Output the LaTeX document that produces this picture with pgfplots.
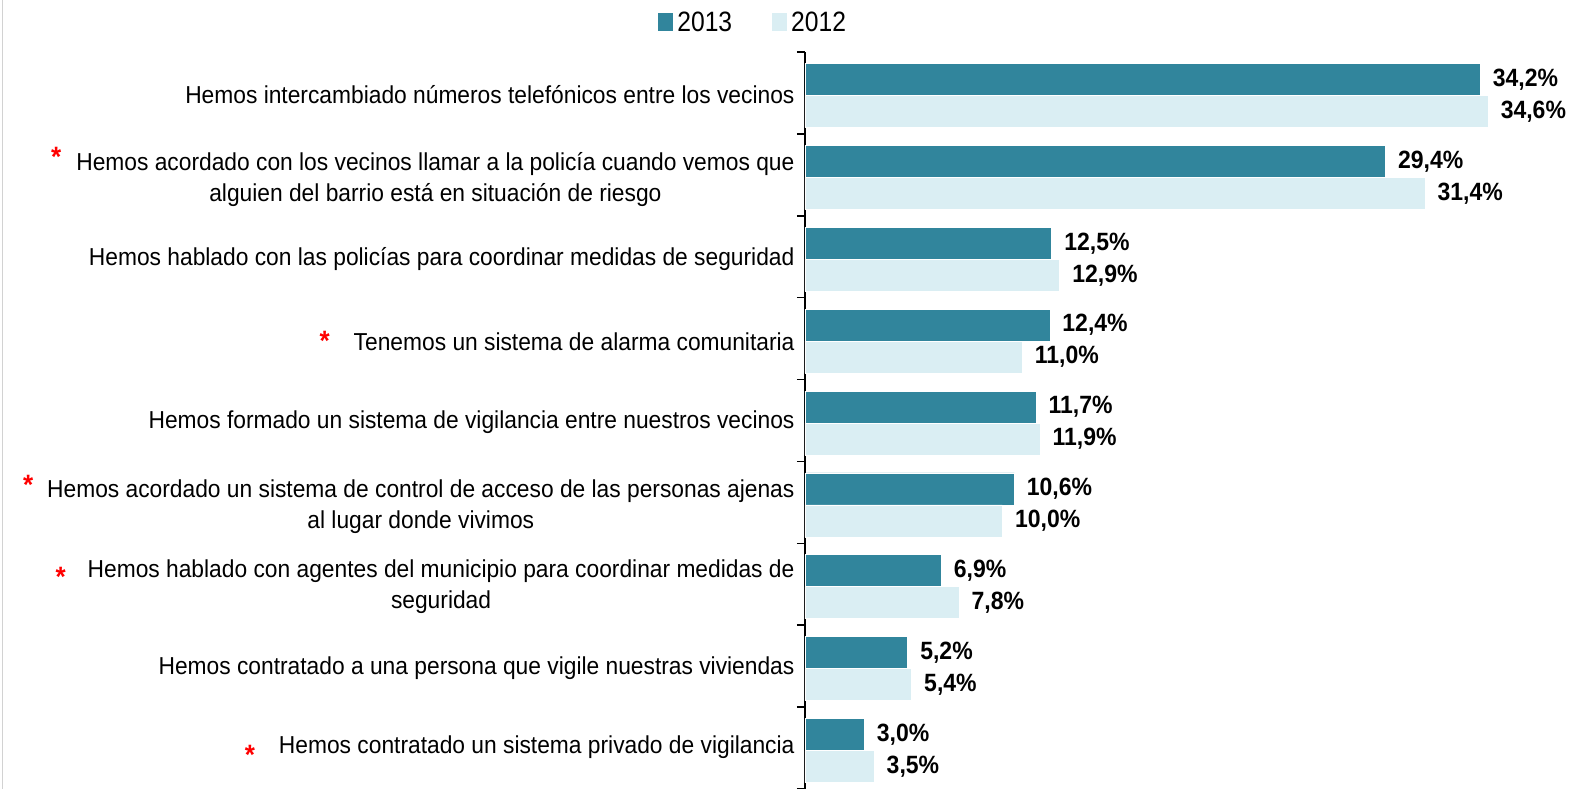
\documentclass[border=0pt]{standalone}
\usepackage{pgfplots}
\pgfplotsset{compat=1.18}
\usepackage{fontspec}
\setmainfont{Liberation Sans}[FakeStretch=0.93]
\newfontfamily\legfont{Liberation Sans}[FakeStretch=0.88]
\newfontfamily\valfont{Liberation Sans}[FakeStretch=0.92]
\definecolor{dark}{HTML}{31859C}
\definecolor{light}{HTML}{DAEEF3}
\newcommand{\rs}[2]{\llap{\textcolor{red}{\fontsize{28}{28}\selectfont\bfseries\raisebox{#1}{*}}\hspace{#2}}}
\begin{document}
\begin{tikzpicture}
\begin{axis}[
  xbar,
  scale only axis,
  width=770pt, height=737pt,
  xmin=0, xmax=39,
  ymin=-0.5, ymax=8.5, y dir=reverse,
  hide x axis,
  axis y line*=left,
  axis line style={line width=1.6pt, black},
  ytick={0,...,8},
  major tick length=0pt,
  extra y ticks={-0.5,0.5,1.5,2.5,3.5,4.5,5.5,6.5,7.5,8.5},
  extra y tick labels={},
  extra y tick style={major tick length=8pt, tick align=outside, tick style={line width=1.6pt, black}},
  yticklabels={
    {Hemos intercambiado números telefónicos entre los vecinos},
    {\rs{4pt}{15pt}Hemos acordado con los vecinos llamar a la policía cuando vemos que\\alguien del barrio está en situación de riesgo},
    {Hemos hablado con las policías para coordinar medidas de seguridad},
    {\rs{0pt}{24pt}Tenemos un sistema de alarma comunitaria},
    {Hemos formado un sistema de vigilancia entre nuestros vecinos},
    {\rs{3pt}{14pt}Hemos acordado un sistema de control de acceso de las personas ajenas\\al lugar donde vivimos},
    {\rs{-9pt}{22pt}Hemos hablado con agentes del municipio para coordinar medidas de\\seguridad},
    {Hemos contratado a una persona que vigile nuestras viviendas},
    {\rs{-11pt}{24pt}Hemos contratado un sistema privado de vigilancia}
  },
  yticklabel style={font=\fontsize{24.5}{31}\selectfont, align=center, xshift=-7pt, yshift=-2pt},
  bar width=32pt,
  clip=false,
  point meta=x,
  nodes near coords={\pgfmathprintnumber[fixed,fixed zerofill,precision=1,use comma,assume math mode=true]{\pgfplotspointmeta}\%},
  nodes near coords align={horizontal},
  every node near coord/.append style={font=\valfont\fontsize{25}{25}\selectfont\bfseries, black, anchor=west, xshift=9pt},
  legend style={at={(axis description cs:-0.066,1.0407)}, anchor=center, draw=none, fill=none,
    legend columns=2, font=\legfont\fontsize{28}{28}\selectfont,
    /tikz/every even column/.append style={column sep=36pt}},
  legend image code/.code={\fill[#1, draw=none] (0pt,-9pt) rectangle (15pt,9pt);},
  legend style={nodes={inner xsep=4pt}},
]
\addplot[fill=dark, draw=white, line width=0.6pt, bar shift=13.5pt] coordinates {
  (34.2,0) (29.4,1) (12.5,2) (12.4,3) (11.7,4) (10.6,5) (6.9,6) (5.2,7) (3.0,8)};
\addplot[fill=light, draw=white, line width=0.6pt, bar shift=-18.5pt] coordinates {
  (34.6,0) (31.4,1) (12.9,2) (11.0,3) (11.9,4) (10.0,5) (7.8,6) (5.4,7) (3.5,8)};
\legend{2013,2012}
\end{axis}
\draw[gray!35, line width=1pt] (-802pt,0pt) -- (-802pt,789pt);
\pgfresetboundingbox
\useasboundingbox (-805pt,0pt) rectangle (770pt,789pt);
\end{tikzpicture}
\end{document}
